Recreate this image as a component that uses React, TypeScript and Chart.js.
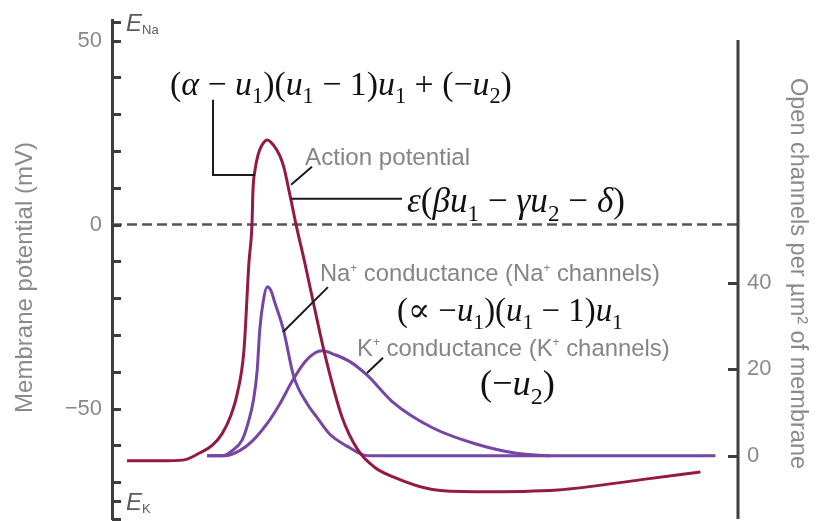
import React, { useEffect, useRef } from 'react';
import { Chart, registerables } from 'chart.js';

Chart.register(...registerables);

// ---- Data -------------------------------------------------------------
// Time axis in ms, membrane potential in mV (left axis)
const apTime = [0.12, 0.4, 0.567, 0.703, 0.8, 0.88, 0.95, 1.0, 1.054, 1.094, 1.118, 1.126, 1.142, 1.166, 1.198, 1.24, 1.294, 1.342, 1.374, 1.406, 1.438, 1.47, 1.542, 1.597, 1.701, 1.837, 1.965, 2.1, 2.24, 2.56, 2.9, 3.56, 4.23, 4.7];
const apMv = [-64.2, -64.2, -64.0, -62.0, -60.0, -56.8, -51.8, -46.0, -34.1, -10.2, 0, 9.4, 14.8, 18.9, 21.6, 23.0, 21.4, 18.6, 15.4, 10.5, 5.3, 0, -10.7, -19.4, -35.4, -52.3, -61.3, -66.0, -68.5, -72.0, -72.6, -72.1, -69.3, -67.2];

// Open channels per µm² (right axis)
const naTime = [0.76, 0.88, 0.96, 1.04, 1.09, 1.13, 1.16, 1.18, 1.21, 1.24, 1.27, 1.3, 1.37, 1.45, 1.56, 1.64, 1.74, 1.88, 2.0, 2.08, 4.82];
const naChannels = [0, 0, 1.2, 3.7, 7.9, 12.9, 19.9, 29.1, 36.1, 39.1, 38.2, 35.5, 29.1, 18.5, 12.0, 8.8, 5.0, 2.2, 0.3, 0, 0];

const kTime = [0.76, 0.9, 1.02, 1.12, 1.24, 1.34, 1.44, 1.54, 1.62, 1.68, 1.78, 1.9, 2.04, 2.24, 2.56, 2.9, 3.23, 3.5];
const kChannels = [0, 0, 1.2, 3.4, 7.5, 12.0, 17.3, 21.7, 23.8, 24.3, 23.4, 21.8, 18.6, 12.5, 6.5, 2.8, 0.6, 0];

// Resting reference (0 mV dashed line)
const zeroTime = [0, 5];
const zeroMv = [0, 0];

// Axis ticks
const mvTicks = [55, 50, 40, 30, 20, 10, 0, -10, -20, -30, -40, -50, -60, -70, -75, -80];
const mvTickLabels: Record<string, string> = { '50': '50', '0': '0', '-50': '−50' };
const channelTicks = [0, 20, 40];
const channelTickLabels = ['0', '20', '40'];
const reversalLabels = [
  { name: 'Na', mv: 55 },
  { name: 'K', mv: -75 },
];
const leftTitle = 'Membrane potential (mV)';
const rightTitle = 'Open channels per µm² of membrane';

// ---- Styles -----------------------------------------------------------
const SANS = "'Liberation Sans', Arial, sans-serif";
const SERIF = "'Liberation Serif', 'DejaVu Serif', serif";
const AP_COLOR = '#931a44';
const CH_COLOR = '#7646a3';
const AXIS_COLOR = '#3e3e3e';
const GREY_TEXT = '#8a8a8a';
const LABEL_TEXT = '#858585';

type Run = [string, 'n' | 'i' | 'sub' | 'sup'];

const formulaFull: Run[] = [
  ['(', 'n'], ['α', 'i'], [' − ', 'n'], ['u', 'i'], ['1', 'sub'], [')(', 'n'], ['u', 'i'], ['1', 'sub'],
  [' − 1)', 'n'], ['u', 'i'], ['1', 'sub'], [' + (−', 'n'], ['u', 'i'], ['2', 'sub'], [')', 'n'],
];
const formulaRecovery: Run[] = [
  ['ε', 'i'], ['(', 'n'], ['β', 'i'], ['u', 'i'], ['1', 'sub'], [' − ', 'n'], ['γ', 'i'], ['u', 'i'], ['2', 'sub'],
  [' − ', 'n'], ['δ', 'i'], [')', 'n'],
];
const formulaNa: Run[] = [
  ['(∝ −', 'n'], ['u', 'i'], ['1', 'sub'], [')(', 'n'], ['u', 'i'], ['1', 'sub'], [' − 1)', 'n'], ['u', 'i'], ['1', 'sub'],
];
const formulaK: Run[] = [['(−', 'n'], ['u', 'i'], ['2', 'sub'], [')', 'n']];

const labelAp: Run[] = [['Action potential', 'n']];
const labelNa: Run[] = [['Na', 'n'], ['+', 'sup'], [' conductance (Na', 'n'], ['+', 'sup'], [' channels)', 'n']];
const labelK: Run[] = [['K', 'n'], ['+', 'sup'], [' conductance (K', 'n'], ['+', 'sup'], [' channels)', 'n']];

// Text blocks placed in data space (t in ms, mv on left axis); width in px
const textBlocks = [
  { runs: formulaFull, t: 0.463, mv: 38.5, width: 342, family: SERIF, color: '#111111' },
  { runs: labelAp, t: 1.542, mv: 18.6, width: 165, family: SANS, color: LABEL_TEXT },
  { runs: formulaRecovery, t: 2.356, mv: 6.7, width: 218, family: SERIF, color: '#111111' },
  { runs: labelNa, t: 1.661, mv: -13.2, width: 340, family: SANS, color: LABEL_TEXT },
  { runs: formulaNa, t: 2.276, mv: -23.2, width: 226, family: SERIF, color: '#111111' },
  { runs: labelK, t: 1.957, mv: -33.4, width: 313, family: SANS, color: LABEL_TEXT },
  { runs: formulaK, t: 2.939, mv: -42.8, width: 75, family: SERIF, color: '#111111' },
];

// Leader lines connecting labels to curves (t, mv pairs)
const leaders: [number, number][][] = [
  [[0.807, 33.9], [0.807, 13.5], [1.142, 13.5]],
  [[1.597, 15.7], [1.43, 10.8]],
  [[1.43, 7.0], [2.316, 7.0]],
  [[1.725, -17.0], [1.366, -29.2]],
  [[2.165, -36.2], [2.037, -40.3]],
];

const zip = (xs: number[], ys: number[]) => xs.map((x, i) => ({ x, y: ys[i] }));

function runFont(kind: Run[1], size: number, family: string) {
  const small = kind === 'sub' || kind === 'sup';
  const s = small ? size * (kind === 'sup' ? 0.5 : 0.66) : size;
  return `${kind === 'i' ? 'italic ' : ''}${s}px ${family}`;
}

function runsWidth(ctx: CanvasRenderingContext2D, runs: Run[], size: number, family: string) {
  let w = 0;
  for (const [text, kind] of runs) {
    ctx.font = runFont(kind, size, family);
    w += ctx.measureText(text).width;
  }
  return w;
}

function drawRuns(ctx: CanvasRenderingContext2D, runs: Run[], x: number, yMid: number, size: number, family: string, color: string) {
  let cx = x;
  const base = yMid + size * 0.35;
  ctx.fillStyle = color;
  ctx.textBaseline = 'alphabetic';
  ctx.textAlign = 'left';
  for (const [text, kind] of runs) {
    ctx.font = runFont(kind, size, family);
    const dy = kind === 'sub' ? size * 0.24 : kind === 'sup' ? -size * 0.42 : 0;
    ctx.fillText(text, cx, base + dy);
    cx += ctx.measureText(text).width;
  }
}

function drawRotated(ctx: CanvasRenderingContext2D, text: string, x: number, y: number, angle: number, font: string) {
  ctx.save();
  ctx.translate(x, y);
  ctx.rotate(angle);
  ctx.font = font;
  ctx.fillStyle = GREY_TEXT;
  ctx.textAlign = 'center';
  ctx.textBaseline = 'middle';
  ctx.fillText(text, 0, 0);
  ctx.restore();
}

// Vertical axes: fixed box widths and no extra label padding
const fixWidth = (w: number) => (s: any) => {
  s.width = w;
  s.paddingTop = 0;
  s.paddingBottom = 0;
};

const overlayPlugin = {
  id: 'overlay',
  afterDraw(chart: any) {
    const { ctx, chartArea, scales } = chart;
    const sx = scales.x;
    const sy = scales.y;
    const sy1 = scales.y1;
    ctx.save();

    // axis titles
    const midY = (chartArea.top + chartArea.bottom) / 2;
    drawRotated(ctx, leftTitle, sy.left + 25, midY + 8, -Math.PI / 2, `24px ${SANS}`);
    drawRotated(ctx, rightTitle, sy1.right - 20, midY + 4, Math.PI / 2, `23.5px ${SANS}`);

    // right axis spine (starts a little below the top)
    ctx.strokeStyle = AXIS_COLOR;
    ctx.lineWidth = 3;
    ctx.beginPath();
    ctx.moveTo(sy1.left, chartArea.top + 20);
    ctx.lineTo(sy1.left, chartArea.bottom);
    ctx.stroke();

    // inward tick marks
    ctx.lineWidth = 3;
    for (const tk of sy.ticks) {
      const py = Math.round(sy.getPixelForValue(tk.value)) + 0.5;
      ctx.beginPath();
      ctx.moveTo(sy.right, py);
      ctx.lineTo(sy.right + 9, py);
      ctx.stroke();
    }
    for (const tk of sy1.ticks) {
      const py = Math.round(sy1.getPixelForValue(tk.value)) + 0.5;
      ctx.beginPath();
      ctx.moveTo(sy1.left - 10, py);
      ctx.lineTo(sy1.left, py);
      ctx.stroke();
    }

    // reversal potential labels E_Na, E_K
    for (const r of reversalLabels) {
      const py = sy.getPixelForValue(r.mv);
      const px = sy.right + 14;
      ctx.fillStyle = '#5a5a5a';
      ctx.textBaseline = 'alphabetic';
      ctx.textAlign = 'left';
      ctx.font = `italic 24px ${SANS}`;
      ctx.fillText('E', px, py + 9);
      const ew = ctx.measureText('E').width;
      ctx.font = `13px ${SANS}`;
      ctx.fillText(r.name, px + ew, py + 12);
    }

    // leader lines
    ctx.strokeStyle = '#1a1a1a';
    ctx.lineWidth = 2;
    for (const pts of leaders) {
      ctx.beginPath();
      pts.forEach(([t, mv], i) => {
        const px = sx.getPixelForValue(t);
        const py = sy.getPixelForValue(mv);
        if (i === 0) ctx.moveTo(px, py);
        else ctx.lineTo(px, py);
      });
      ctx.stroke();
    }

    // labels and formulas
    for (const b of textBlocks) {
      const base = 24;
      const size = (base * b.width) / runsWidth(ctx, b.runs, base, b.family);
      drawRuns(ctx, b.runs, sx.getPixelForValue(b.t), sy.getPixelForValue(b.mv), size, b.family, b.color);
    }
    ctx.restore();
  },
};

export default function App() {
  const canvasRef = useRef<HTMLCanvasElement>(null);

  useEffect(() => {
    const canvas = canvasRef.current;
    if (!canvas) return;
    const chart = new Chart(canvas, {
      type: 'line',
      data: {
        datasets: [
          {
            label: 'Action potential',
            data: zip(apTime, apMv),
            yAxisID: 'y',
            borderColor: AP_COLOR,
            borderWidth: 3,
            pointRadius: 0,
            cubicInterpolationMode: 'monotone',
            order: 1,
          },
          {
            label: 'Na+ conductance',
            data: zip(naTime, naChannels),
            yAxisID: 'y1',
            borderColor: CH_COLOR,
            borderWidth: 3,
            pointRadius: 0,
            cubicInterpolationMode: 'monotone',
            order: 2,
          },
          {
            label: 'K+ conductance',
            data: zip(kTime, kChannels),
            yAxisID: 'y1',
            borderColor: CH_COLOR,
            borderWidth: 3,
            pointRadius: 0,
            cubicInterpolationMode: 'monotone',
            order: 3,
          },
          {
            label: '0 mV',
            data: zip(zeroTime, zeroMv),
            yAxisID: 'y',
            borderColor: '#555555',
            borderWidth: 2.5,
            borderDash: [10, 5],
            pointRadius: 0,
            order: 4,
          },
        ],
      },
      options: {
        responsive: false,
        animation: false,
        devicePixelRatio: 1,
        layout: { padding: { top: 20, bottom: 2, left: 0, right: 0 } },
        plugins: { legend: { display: false }, tooltip: { enabled: false } },
        scales: {
          x: { type: 'linear', min: 0, max: 5, display: false },
          y: {
            type: 'linear',
            position: 'left',
            min: -80,
            max: 55.6,
            afterBuildTicks: (s: any) => {
              s.ticks = mvTicks.map((v) => ({ value: v }));
            },
            afterFit: fixWidth(112),
            ticks: {
              autoSkip: false,
              padding: 10,
              color: GREY_TEXT,
              font: { family: SANS, size: 22 },
              callback: (v: any) => mvTickLabels[String(v)] ?? '',
            },
            grid: { drawOnChartArea: false, drawTicks: false },
            border: { display: true, color: AXIS_COLOR, width: 3 },
            title: { display: false },
          },
          y1: {
            type: 'linear',
            position: 'right',
            min: -14.6,
            max: 100.8,
            afterBuildTicks: (s: any) => {
              s.ticks = channelTicks.map((v) => ({ value: v }));
            },
            afterFit: fixWidth(79),
            ticks: {
              autoSkip: false,
              padding: 9,
              color: GREY_TEXT,
              font: { family: SANS, size: 22 },
              callback: (v: any) => channelTickLabels[channelTicks.indexOf(Number(v))] ?? '',
            },
            grid: { drawOnChartArea: false, drawTicks: false },
            border: { display: false },
            title: { display: false },
          },
        },
      },
      plugins: [overlayPlugin],
    } as any);
    return () => chart.destroy();
  }, []);

  return (
    <div style={{ position: 'absolute', left: 0, top: 0, width: 817, height: 521, background: '#ffffff' }}>
      <canvas ref={canvasRef} width={817} height={521} style={{ display: 'block' }} />
    </div>
  );
}
